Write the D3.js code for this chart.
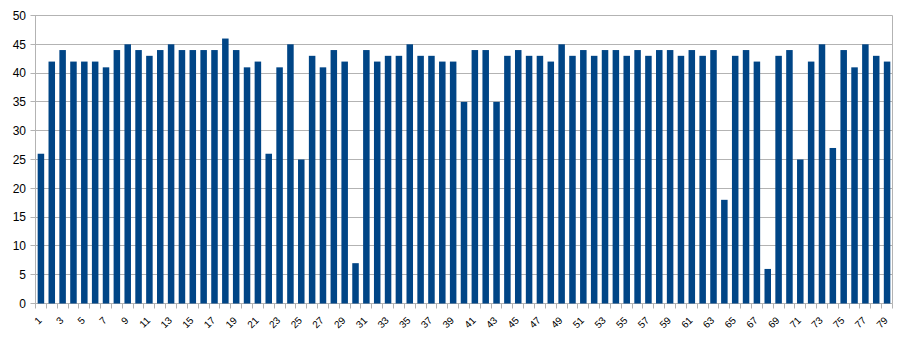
<!DOCTYPE html>
<html>
<head>
<meta charset="utf-8">
<script src="https://cdn.jsdelivr.net/npm/d3@7"></script>
<style>
  html, body { margin: 0; padding: 0; background: #fff; }
  svg { display: block; }
  text { font-family: "Liberation Sans", Arial, sans-serif; fill: #000; }
</style>
</head>
<body>
<svg id="chart" width="902" height="342"></svg>
<script>
const categories = d3.range(1, 80).map(String);
const values = [
  26, 42, 44, 42, 42, 42, 41, 44, 45, 44,
  43, 44, 45, 44, 44, 44, 44, 46, 44, 41,
  42, 26, 41, 45, 25, 43, 41, 44, 42, 7,
  44, 42, 43, 43, 45, 43, 43, 42, 42, 35,
  44, 44, 35, 43, 44, 43, 43, 42, 45, 43,
  44, 43, 44, 44, 43, 44, 43, 44, 44, 43,
  44, 43, 44, 18, 43, 44, 42, 6, 43, 44,
  25, 42, 45, 27, 44, 41, 45, 43, 42
];
const yTicks = [0, 5, 10, 15, 20, 25, 30, 35, 40, 45, 50];
const xLabelEvery = 2;

const svg = d3.select("#chart");
const pLeft = 35.5, pRight = 892.5, pTop = 15.5, pBottom = 303.5;
const grid = "#b3b3b3";
const barColor = "#004586";

const x = d3.scaleBand().domain(categories).range([pLeft, pRight]).paddingInner(0.4).paddingOuter(0.2);
const y = d3.scaleLinear().domain([0, 50]).range([pBottom, pTop]);

// horizontal gridlines
svg.append("g").selectAll("line").data(yTicks).join("line")
  .attr("x1", pLeft - 5).attr("x2", pRight)
  .attr("y1", d => Math.round(y(d) - 0.5) + 0.5)
  .attr("y2", d => Math.round(y(d) - 0.5) + 0.5)
  .attr("stroke", grid).attr("stroke-width", 1);

// left and right borders
svg.append("line").attr("x1", pLeft).attr("x2", pLeft).attr("y1", pTop).attr("y2", pBottom)
  .attr("stroke", grid);
svg.append("line").attr("x1", pRight).attr("x2", pRight).attr("y1", pTop).attr("y2", pBottom)
  .attr("stroke", grid);

// x tick marks at category boundaries
const step = (pRight - pLeft) / categories.length;
const boundaries = d3.range(categories.length + 1).map(i => pLeft + i * step);
svg.append("g").selectAll("line").data(boundaries).join("line")
  .attr("x1", d => Math.round(d - 0.5) + 0.5).attr("x2", d => Math.round(d - 0.5) + 0.5)
  .attr("y1", pBottom).attr("y2", pBottom + 5)
  .attr("stroke", grid);

// bars
svg.append("g").selectAll("rect").data(values).join("rect")
  .attr("x", (d, i) => x(categories[i]))
  .attr("width", x.bandwidth())
  .attr("y", d => y(d))
  .attr("height", d => y(0) - y(d))
  .attr("fill", barColor);

// y labels
svg.append("g").selectAll("text").data(yTicks).join("text")
  .attr("x", 26).attr("y", d => y(d)).attr("dy", "0.36em")
  .attr("text-anchor", "end").attr("font-size", 12)
  .text(d => d);

// x labels
const cx = d => x(d) + x.bandwidth() / 2;
svg.append("g").selectAll("text")
  .data(categories.filter((c, i) => i % xLabelEvery === 0)).join("text")
  .attr("transform", d => `translate(${cx(d) - 1},${318.5}) rotate(-45)`)
  .attr("dy", "0.35em")
  .attr("text-anchor", "end").attr("font-size", 10)
  .text(d => d);
</script>
</body>
</html>
